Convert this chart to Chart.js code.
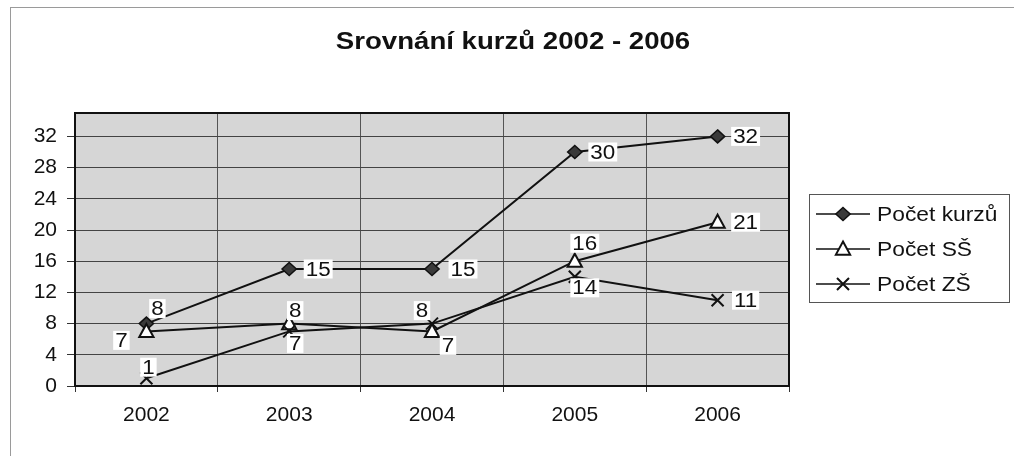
<!DOCTYPE html>
<html>
<head>
<meta charset="utf-8">
<script src="https://cdn.jsdelivr.net/npm/chart.js@4.4.0/dist/chart.umd.min.js"></script>
<style>
  html, body { margin: 0; padding: 0; background: #fff; }
  #wrap { position: relative; width: 1014px; height: 456px; overflow: hidden; }
  #frame { position: absolute; left: 10px; top: 7px; width: 1100px; height: 500px;
           border-left: 1px solid #9a9a9a; border-top: 1px solid #9a9a9a; }
  canvas { position: absolute; left: 0; top: 0; }
</style>
</head>
<body>
<div id="wrap">
  <div id="frame"></div>
  <canvas id="c" width="1014" height="456"></canvas>
</div>
<script>
// ---- data ----
const titleText = 'Srovnání kurzů 2002 - 2006';
const categories = ['2002', '2003', '2004', '2005', '2006'];
const seriesNames = ['Počet kurzů', 'Počet SŠ', 'Počet ZŠ'];
const pocetKurzu = [8, 15, 15, 30, 32];
const pocetSS = [7, 8, 7, 16, 21];
const pocetZS = [1, 7, 8, 14, 11];
const yTickValues = [0, 4, 8, 12, 16, 20, 24, 28, 32];

// ---- label placement (style: offset of label centre from its point, px) ----
const labelOffsets = [
  [[11, -15], [29, 0], [31, 0], [28, 0], [28, 0]],
  [[-25, 9], [6, -13], [16, 14], [10, -18], [28, 0]],
  [[2, -11], [6, 12], [-10, -13], [10, 11], [28, 0]]
];
const markerStyles = [
  { shape: 'diamond', fill: '#3a3a3a' },
  { shape: 'triangle', fill: '#ffffff' },
  { shape: 'x', fill: '#ffffff' }
];

const FONT = '"Liberation Sans", Arial, sans-serif';

function stretchedText(ctx, txt, x, y, sx, align) {
  ctx.save();
  ctx.translate(x, y);
  ctx.scale(sx, 1);
  ctx.textAlign = align;
  ctx.fillText(txt, 0, 0);
  ctx.restore();
}

function drawMarker(ctx, shape, fill, x, y) {
  ctx.save();
  ctx.strokeStyle = '#111';
  ctx.fillStyle = fill;
  ctx.lineWidth = 1.5;
  ctx.beginPath();
  if (shape === 'diamond') {
    const r = 6.5;
    ctx.moveTo(x, y - r); ctx.lineTo(x + r * 1.1, y); ctx.lineTo(x, y + r); ctx.lineTo(x - r * 1.1, y); ctx.closePath();
    ctx.fill(); ctx.stroke();
  } else if (shape === 'triangle') {
    const r = 7.5;
    ctx.moveTo(x, y - r); ctx.lineTo(x + r * 0.95, y + r * 0.75); ctx.lineTo(x - r * 0.95, y + r * 0.75); ctx.closePath();
    ctx.fill(); ctx.lineWidth = 2; ctx.stroke();
  } else {
    const r = 6;
    ctx.lineWidth = 2;
    ctx.moveTo(x - r, y - r); ctx.lineTo(x + r, y + r);
    ctx.moveTo(x + r, y - r); ctx.lineTo(x - r, y + r);
    ctx.stroke();
  }
  ctx.restore();
}

const plotBg = {
  id: 'plotBg',
  beforeDraw(chart) {
    const { ctx, chartArea: a } = chart;
    ctx.save();
    ctx.fillStyle = '#d6d6d6';
    ctx.fillRect(a.left, a.top, a.right - a.left, a.bottom - a.top);
    ctx.restore();
  },
  beforeDatasetsDraw(chart) {
    const { ctx, chartArea: a } = chart;
    ctx.save();
    ctx.strokeStyle = '#111';
    ctx.lineWidth = 2;
    ctx.strokeRect(a.left, a.top, a.right - a.left, a.bottom - a.top);
    ctx.restore();
  }
};

const markersAndLabels = {
  id: 'markersAndLabels',
  afterDatasetsDraw(chart) {
    const ctx = chart.ctx;
    chart.data.datasets.forEach((ds, di) => {
      const meta = chart.getDatasetMeta(di);
      meta.data.forEach((pt) => {
        drawMarker(ctx, markerStyles[di].shape, markerStyles[di].fill, pt.x, pt.y);
      });
    });
    ctx.save();
    ctx.font = '20px ' + FONT;
    ctx.textBaseline = 'middle';
    const sx = 1.12;
    chart.data.datasets.forEach((ds, di) => {
      const meta = chart.getDatasetMeta(di);
      meta.data.forEach((pt, i) => {
        const txt = String(ds.data[i]);
        const [dx, dy] = labelOffsets[di][i];
        const cx = pt.x + dx, cy = pt.y + dy;
        const w = ctx.measureText(txt).width * sx + 4;
        const h = 19;
        ctx.fillStyle = '#ffffff';
        ctx.fillRect(cx - w / 2, cy - h / 2, w, h);
        ctx.fillStyle = '#111';
        stretchedText(ctx, txt, cx, cy + 1, sx, 'center');
      });
    });
    ctx.restore();
  }
};

const titleAndLegend = {
  id: 'titleAndLegend',
  afterDraw(chart) {
    const ctx = chart.ctx;
    ctx.save();
    // title
    ctx.fillStyle = '#111';
    ctx.font = 'bold 23px ' + FONT;
    ctx.textBaseline = 'middle';
    stretchedText(ctx, titleText, 513, 43, 1.2, 'center');
    // legend
    const bx = 809, by = 194, bw = 200, bh = 108;
    ctx.fillStyle = '#fff';
    ctx.fillRect(bx, by, bw, bh);
    ctx.strokeStyle = '#555';
    ctx.lineWidth = 1;
    ctx.strokeRect(bx + 0.5, by + 0.5, bw, bh);
    ctx.font = '20px ' + FONT;
    ctx.textBaseline = 'middle';
    chart.data.datasets.forEach((ds, di) => {
      const y = by + 20 + di * 35;
      ctx.strokeStyle = '#111';
      ctx.lineWidth = 1.5;
      ctx.beginPath();
      ctx.moveTo(816, y); ctx.lineTo(870, y);
      ctx.stroke();
      drawMarker(ctx, markerStyles[di].shape, markerStyles[di].fill, 843, y);
      ctx.fillStyle = '#111';
      stretchedText(ctx, ds.label, 877, y + 1, 1.14, 'left');
    });
    ctx.restore();
  }
};

const seriesData = [pocetKurzu, pocetSS, pocetZS];

new Chart(document.getElementById('c'), {
  type: 'line',
  data: {
    labels: categories,
    datasets: seriesData.map((d, i) => ({
      label: seriesNames[i],
      data: d,
      borderColor: '#111',
      borderWidth: 2,
      pointRadius: 0,
      pointHoverRadius: 0,
      tension: 0,
      fill: false
    }))
  },
  options: {
    responsive: false,
    animation: false,
    events: [],
    layout: { padding: { left: 10, right: 225, top: 113, bottom: 0 } },
    plugins: {
      legend: { display: false },
      tooltip: { enabled: false },
      title: { display: false }
    },
    scales: {
      x: {
        offset: true,
        grid: { offset: true, color: '#555', lineWidth: 1, drawTicks: true, tickLength: 6, tickColor: '#333' },
        border: { display: false },
        ticks: { color: '#111', font: { family: FONT, size: 21 }, padding: 11, maxRotation: 0 },
        afterFit(s) { s.height = 70; }
      },
      y: {
        min: 0,
        max: 35,
        ticks: { stepSize: 4, color: '#111', font: { family: FONT, size: 21 }, padding: 10 },
        afterBuildTicks(s) { s.ticks = yTickValues.map(v => ({ value: v })); },
        grid: { color: '#444', lineWidth: 1, tickLength: 8, tickColor: '#333' },
        border: { display: false },
        afterFit(s) { s.width = 65; }
      }
    }
  },
  plugins: [plotBg, markersAndLabels, titleAndLegend]
});
</script>
</body>
</html>
